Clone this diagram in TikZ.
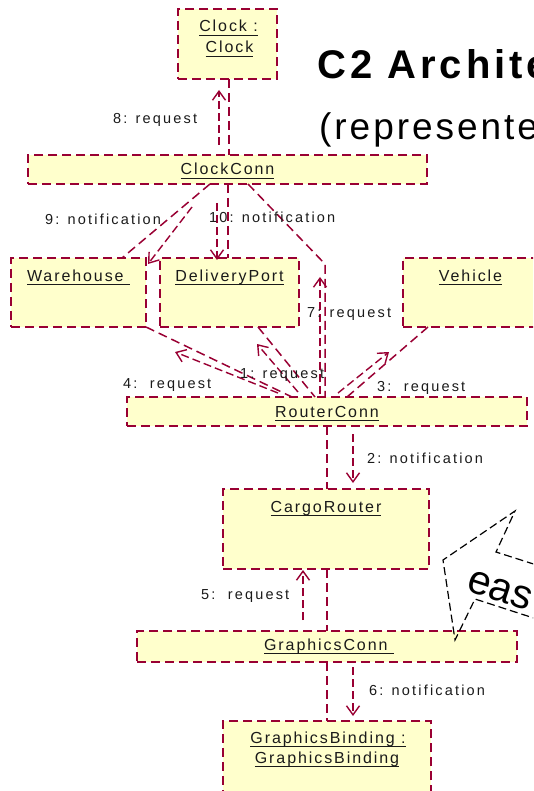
\documentclass[tikz,border=0pt]{standalone}
\usepackage{fontspec}
\setmainfont{Liberation Sans}
\newfontfamily\objfont[LetterSpace=12]{Liberation Sans}
\newfontfamily\msgfont[LetterSpace=15]{Liberation Sans}
\newfontfamily\titlefont[LetterSpace=10]{Liberation Sans}
\usetikzlibrary{arrows.meta,calc,positioning}
\definecolor{wine}{RGB}{153,0,51}
\definecolor{objfill}{RGB}{255,255,204}
\definecolor{ink}{RGB}{26,26,26}
\newsavebox{\undlbox}
\newcommand{\undl}[1]{\sbox{\undlbox}{#1}\rlap{\rule[-4pt]{\wd\undlbox}{1.4pt}}\usebox{\undlbox}}
\newcommand{\objbox}[5]{
    \node[obj, minimum width=#4pt, minimum height=#5pt] (#1) at (#2,-#3) {};
}
\tikzset{
    obj/.style={draw=wine, fill=objfill, line width=1.6pt, dash pattern=on 9pt off 5pt,
        rectangle, inner sep=0pt, outer sep=0pt, anchor=north west},
    objtext/.style={anchor=base, inner sep=0pt, text=ink, font=\objfont\fontsize{16}{19}\selectfont},
    msgtext/.style={anchor=base west, inner sep=0pt, text=ink, font=\msgfont\fontsize{14.5}{17}\selectfont},
    link/.style={draw=wine, line width=1.5pt, dash pattern=on 9pt off 5pt},
    msg/.style={draw=wine, line width=1.4pt, dash pattern=on 8pt off 4pt,
        -{Straight Barb[length=9pt,width=13pt]}},
    callout/.style={draw=black, line width=1.2pt, dash pattern=on 8pt off 4pt},
}

\begin{document}
\begin{tikzpicture}[x=1pt,y=1pt]
    \useasboundingbox (0,0) rectangle (533,-791);
    \clip (0,0) rectangle (533,-791);

    % components and connectors
    \objbox{clock}{178}{9}{99}{70}
    \objbox{clockconn}{28}{155}{399}{29}
    \objbox{warehouse}{11}{258}{135}{69}
    \objbox{deliveryport}{160}{258}{139}{69}
    \objbox{vehicle}{403}{258}{139}{69}
    \objbox{routerconn}{127}{397}{400}{29}
    \objbox{cargorouter}{223}{489}{206}{80}
    \objbox{graphicsconn}{137}{631}{380}{31}
    \objbox{graphicsbinding}{223}{721}{208}{75}

    \node[objtext] (clock-a) at ($(clock.north)+(1,-23)$) {\undl{Clock :}};
    \node[objtext] (clock-b) at ($(clock.north)+(2,-44)$) {\undl{Clock}};
    \node[objtext] (clockconn-t) at ($(clockconn.north)+(0,-20)$) {\undl{ClockConn}};
    \node[objtext] (warehouse-t) at ($(warehouse.north)+(0,-23)$) {\undl{Warehouse\ }};
    \node[objtext] (deliveryport-t) at ($(deliveryport.north)+(0,-23)$) {\undl{DeliveryPort}};
    \node[objtext] (vehicle-t) at ($(vehicle.north)+(-2,-23)$) {\undl{Vehicle}};
    \node[objtext] (routerconn-t) at ($(routerconn.north)+(0,-20)$) {\undl{RouterConn}};
    \node[objtext] (cargorouter-t) at ($(cargorouter.north)+(0,-23)$) {\undl{CargoRouter}};
    \node[objtext] (graphicsconn-t) at ($(graphicsconn.north)+(2,-19)$) {\undl{GraphicsConn\ }};
    \node[objtext] (graphicsbinding-a) at ($(graphicsbinding.north)+(1,-22)$) {\undl{GraphicsBinding :}};
    \node[objtext] (graphicsbinding-b) at ($(graphicsbinding.north)+(0,-42)$) {\undl{GraphicsBinding}};

    % links
    \coordinate (clkbend) at (325,-264);
    \draw[link] ($(clock.south)+(1.5,0)$) -- ($(clock.south |- clockconn.north)+(1.5,0)$);
    \draw[link] ($(clockconn.south)+(-17.5,0)$) -- ($(warehouse.north)+(43.5,0)$);
    \draw[link] ($(clockconn.south)+(0.5,0)$) -- ($(deliveryport.north)+(-1.5,0)$);
    \draw[link] ($(clockconn.south)+(20.5,0)$) -- (clkbend) -- (clkbend |- routerconn.north);
    \draw[link] (warehouse.south east) -- ($(routerconn.north)+(-35,0)$);
    \draw[link] ($(deliveryport.south)+(28.5,0)$) -- ($(routerconn.north)+(-12,0)$);
    \draw[link] ($(vehicle.south west)+(25,0)$) -- ($(routerconn.north)+(20,0)$);
    \draw[link] (routerconn.south) -- (routerconn.south |- cargorouter.north);
    \draw[link] (graphicsconn.north |- cargorouter.south) -- (graphicsconn.north);
    \draw[link] (graphicsconn.south) -- (graphicsconn.south |- graphicsbinding.north);

    % messages
    \draw[msg] ($(clock.south |- clockconn.north)+(-8.5,10)$) -- ($(clock.south)+(-8.5,-11)$);
    \draw[msg] ($(clockconn.south)+(-35.5,-23)$) -- ($(warehouse.north)+(69.5,-6)$);
    \draw[msg] ($(clockconn.south)+(-10.5,-19)$) -- ($(deliveryport.north)+(-12.5,-2)$);
    \draw[msg] ($(routerconn.north)+(-7,3)$) -- ($(routerconn.north)+(-7,120)$);
    \draw[msg] ($(routerconn.north)+(-49,4)$) -- ($(warehouse.south east)+(29,-25)$);
    \draw[msg] ($(routerconn.north)+(-29,5)$) -- ($(deliveryport.south)+(27.5,-17)$);
    \draw[msg] ($(routerconn.north)+(11,4)$) -- ($(vehicle.south west)+(-14,-25)$);
    \draw[msg] ($(routerconn.south)+(26,-8)$) -- ($(routerconn.south |- cargorouter.north)+(26,6)$);
    \draw[msg] ($(graphicsconn.north)+(-24,11)$) -- ($(graphicsconn.north |- cargorouter.south)+(-24,-1)$);
    \draw[msg] ($(graphicsconn.south)+(26,-5)$) -- ($(graphicsconn.south |- graphicsbinding.north)+(26,5)$);

    \node[msgtext] (m8) at (113,-124) {8: request};
    \node[msgtext] (m9) at (45,-225) {9: notification};
    \node[msgtext] (m10) at (209,-223) {10: notification};
    \node[msgtext] (m7) at (307,-317) {7: request};
    \node[msgtext] (m1) at (240,-378) {1: request};
    \node[msgtext] (m4) at (123,-388) {4:\ \ request};
    \node[msgtext] (m3) at (377,-391) {3:\ \ request};
    \node[msgtext] (m2) at (367,-463) {2: notification};
    \node[msgtext] (m5) at (201,-599) {5:\ \ request};
    \node[msgtext] (m6) at (369,-695) {6: notification};

    % title
    \node[anchor=base west, inner sep=0pt, font=\titlefont\bfseries\fontsize{40}{48}\selectfont] (title) at (317,-79) {C2 Archite};
    \node[anchor=base west, inner sep=0pt, font=\titlefont\fontsize{37}{44}\selectfont\addfontfeatures{LetterSpace=8}] (subtitle) at (319,-140) {(represente};

    % callout
    \draw[callout] (546,-568) -- (496,-552) -- (515,-511) -- (443,-560) -- (455,-640) -- (475,-599) -- (546,-622);
    \node[anchor=base west, inner sep=0pt, rotate=-18, font=\fontsize{41}{48}\selectfont] (easy) at (465,-590) {eas};
\end{tikzpicture}
\end{document}
